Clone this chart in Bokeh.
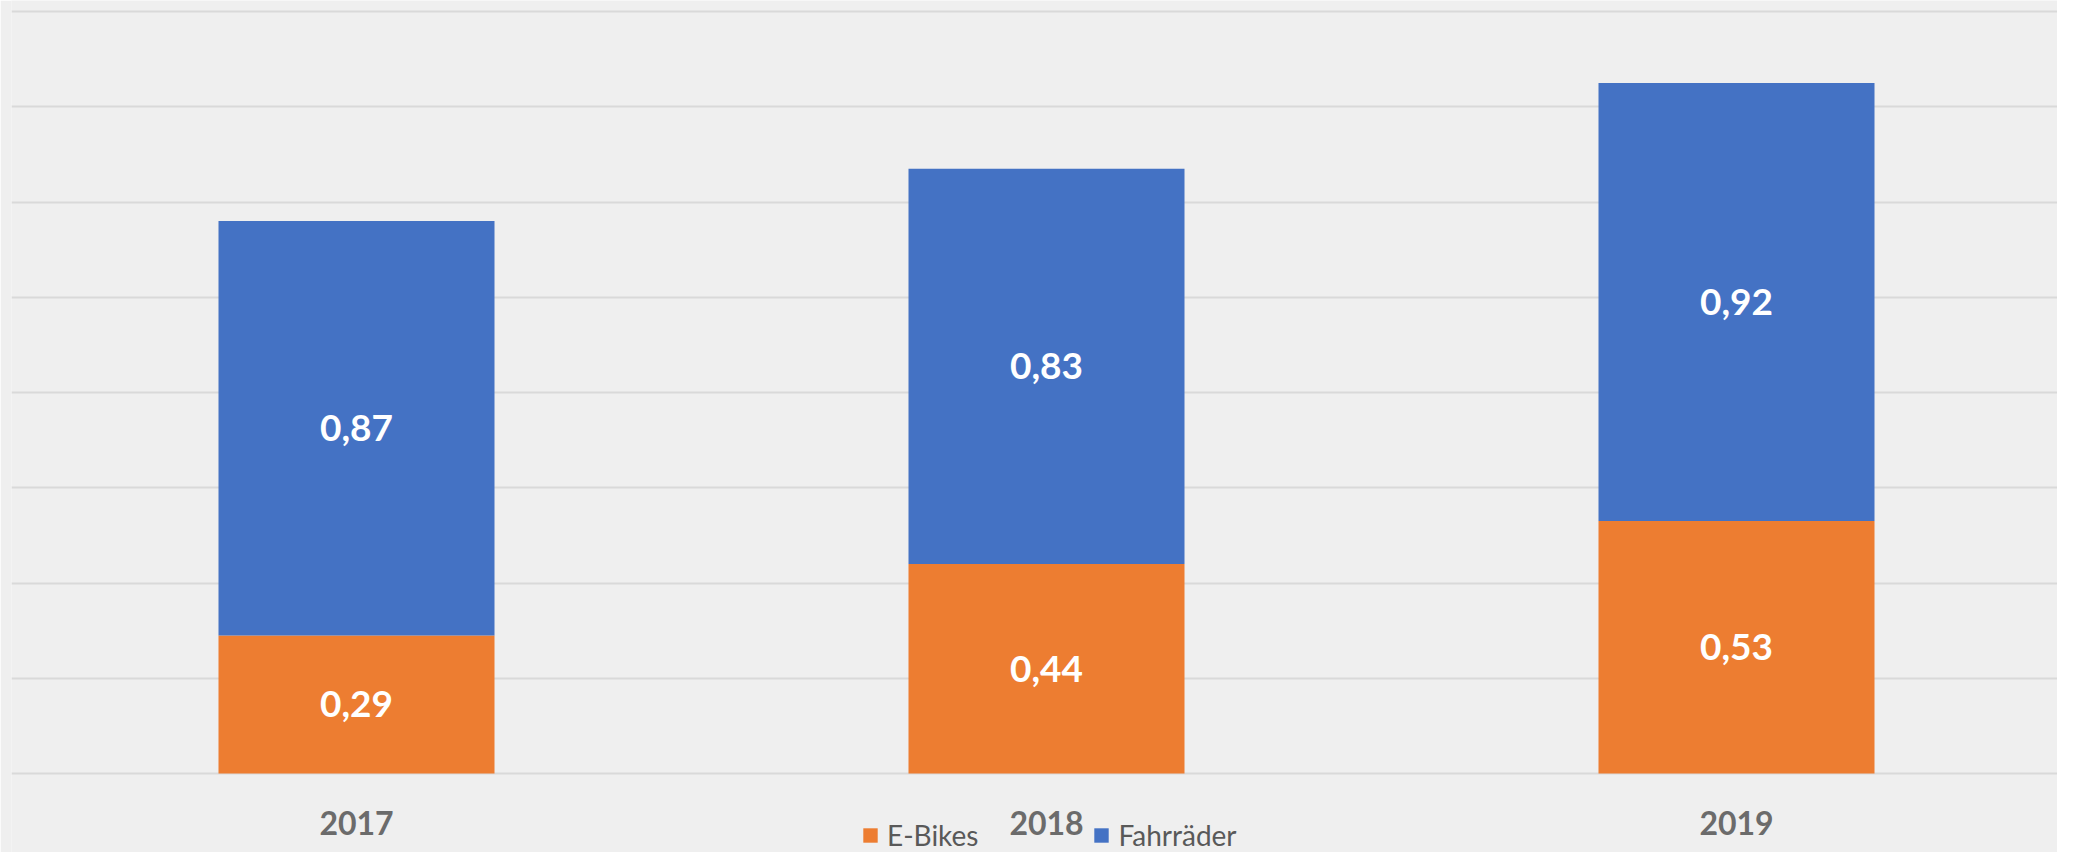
from bokeh.plotting import figure
from bokeh.models import ColumnDataSource, Range1d, FixedTicker, Legend, LegendItem, LabelSet
from bokeh.core.properties import value
from bokeh.embed import file_html
from bokeh.resources import INLINE

# ---- data ----
years = ["2017", "2018", "2019"]
ebikes = [0.29, 0.44, 0.53]
fahrraeder = [0.87, 0.83, 0.92]
series_names = ["E-Bikes", "Fahrräder"]
y_ticks = [0.0, 0.2, 0.4, 0.6, 0.8, 1.0, 1.2, 1.4, 1.6]

colors = ["#ED7D31", "#4472C4"]
bg = "#efefef"

xpos = list(range(len(years)))
src = ColumnDataSource(dict(
    x=xpos,
    ebikes=ebikes,
    fahrraeder=fahrraeder,
    eb_mid=[e / 2 for e in ebikes],
    fr_mid=[e + f / 2 for e, f in zip(ebikes, fahrraeder)],
    eb_lab=[f"{v:.2f}".replace(".", ",") for v in ebikes],
    fr_lab=[f"{v:.2f}".replace(".", ",") for v in fahrraeder],
))

W, H = 2057, 852
LEFT, TOP, BASE = 11, 11, 773
PX = (BASE - TOP) / 1.6  # pixels per unit
p = figure(width=W, height=H, output_backend="svg", toolbar_location=None,
           x_range=Range1d(-0.5, -0.5 + (W - LEFT) / 690),
           y_range=Range1d(-(H - BASE) / PX, 1.6 + TOP / PX),
           min_border_left=LEFT, min_border_right=0, min_border_top=0, min_border_bottom=0)
p.background_fill_color = bg
p.border_fill_color = bg
p.outline_line_color = None

rs = p.vbar_stack(["ebikes", "fahrraeder"], x="x", width=0.4, source=src,
                  color=colors, line_color=None)

p.yaxis.visible = False
p.xgrid.visible = False
p.ygrid.ticker = FixedTicker(ticks=y_ticks)
p.ygrid.grid_line_color = "#d9d9d9"
p.ygrid.grid_line_width = 2
p.ygrid.level = "underlay"

xa = p.xaxis[0]
xa.fixed_location = 0
xa.ticker = FixedTicker(ticks=xpos)
xa.major_label_overrides = {i: y for i, y in zip(xpos, years)}
xa.axis_line_color = None
xa.major_tick_line_color = None
xa.minor_tick_line_color = None
xa.major_label_text_font = "Lato"
xa.major_label_text_font_style = "bold"
xa.major_label_text_font_size = "32px"
xa.major_label_text_color = "#6b6b6b"
xa.major_label_standoff = 31

for col, txt in (("eb_mid", "eb_lab"), ("fr_mid", "fr_lab")):
    ls = LabelSet(x="x", y=col, text=txt, source=src, text_align="center",
                  text_baseline="middle", text_color="white", text_font=value("Lato"),
                  text_font_style="bold", text_font_size="37px")
    p.add_layout(ls)

legend = Legend(items=[LegendItem(label=series_names[i], renderers=[rs[i]]) for i in range(2)],
                orientation="horizontal", location=(850, 0),
                padding=0, margin=0, spacing=114, label_standoff=8,
                glyph_width=18, glyph_height=18, label_height=18,
                label_text_font="Lato", label_text_font_size="28px",
                label_text_color="#595959",
                background_fill_alpha=0, border_line_color=None)
p.add_layout(legend, "center")

open("out.html", "w").write(file_html(p, INLINE))
